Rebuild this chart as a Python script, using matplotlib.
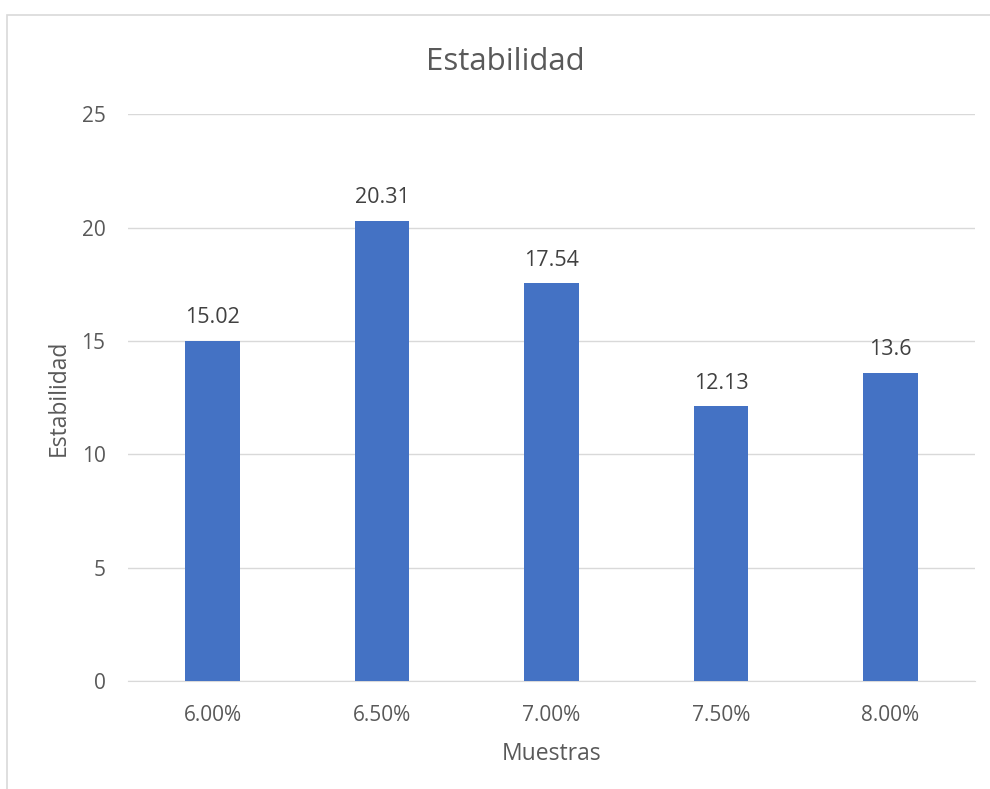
import matplotlib
matplotlib.use("Agg")
import matplotlib.pyplot as plt
from matplotlib.patches import Rectangle

# Data
muestras = ["6.00%", "6.50%", "7.00%", "7.50%", "8.00%"]
estabilidad = [15.02, 20.31, 17.54, 12.13, 13.6]
etiquetas = ["15.02", "20.31", "17.54", "12.13", "13.6"]

plt.rcParams['font.family'] = ['Open Sans', 'DejaVu Sans']
gris = '#595959'

fig = plt.figure(figsize=(9.9, 7.89), dpi=100)
ax = fig.add_axes([0.129, 0.137, 0.856, 0.718])

x = range(len(muestras))
bars = ax.bar(x, estabilidad, width=0.32, color='#4472C4', zorder=3)
for b, t in zip(bars, etiquetas):
    ax.text(b.get_x() + b.get_width() / 2, b.get_height() + 0.55, t,
            ha='center', va='bottom', fontsize=15.5, color='#404040')

ax.set_xlim(-0.5, 4.5)
ax.set_ylim(0, 25)
ax.set_yticks([0, 5, 10, 15, 20, 25])
ax.set_xticks(list(x))
ax.set_xticklabels(muestras)
ax.tick_params(length=0, labelsize=15, colors=gris)
ax.tick_params(axis='x', pad=17)
ax.tick_params(axis='y', pad=16)
ax.grid(axis='y', color='#d9d9d9', linewidth=1, zorder=0)
for s in ['top', 'right', 'left']:
    ax.spines[s].set_visible(False)
ax.spines['bottom'].set_color('#d9d9d9')

ax.set_xlabel('Muestras', fontsize=16.5, color=gris, labelpad=12)
ax.set_ylabel('Estabilidad', fontsize=16.5, color=gris, labelpad=8)
fig.text(0.51, 0.922, 'Estabilidad', ha='center', va='center', fontsize=22.5, color=gris)

fig.patches.append(Rectangle((0.0075, -0.01), 1.1, 0.991, transform=fig.transFigure,
                             fill=False, edgecolor='#d9d9d9', linewidth=1.2))

fig.savefig('out.png', dpi=100)
